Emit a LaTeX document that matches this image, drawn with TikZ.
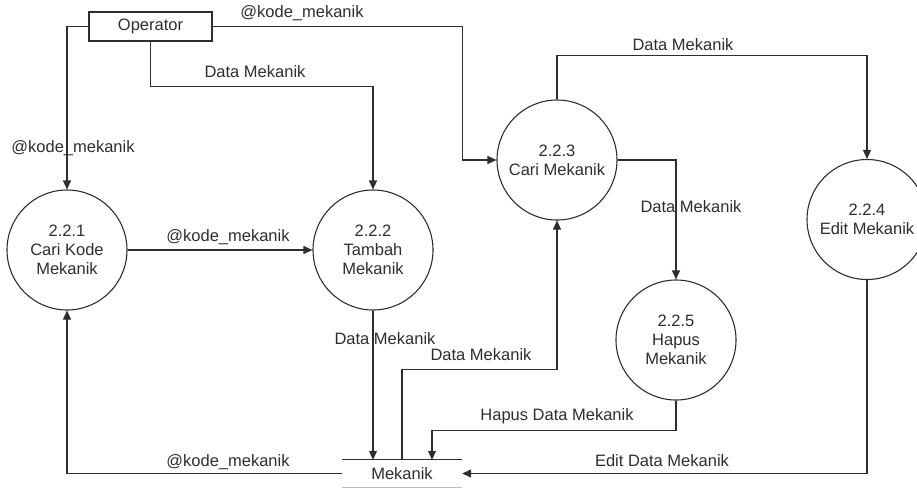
\documentclass[tikz,border=0pt]{standalone}
\usepackage{fontspec}
\setmainfont{Liberation Sans}
\usetikzlibrary{arrows.meta}
\begin{document}
\begin{tikzpicture}[x=1pt,y=-1pt,
  ink/.style={black!82},
  every node/.style={ink, font=\fontsize{16.5}{19}\selectfont},
  proc/.style={circle, draw, ink, line width=1.1pt, minimum size=120pt, inner sep=0pt, align=center},
  ent/.style={draw, ink, line width=1.1pt, minimum width=123pt, minimum height=29pt, inner sep=0pt},
  store/.style={minimum width=120pt, minimum height=27pt, inner sep=0pt},
  flow/.style={draw, ink, line width=1.1pt, -{Triangle[length=9pt,width=8pt]}},
  lbl/.style={inner sep=0pt}
]
\useasboundingbox (0,0) rectangle (917,488);
\clip (0,0) rectangle (917,488);

% external entity and processes
\node[ent] (op) at (150.5,26.5) {Operator};
\node[proc] (c1) at (67,250) {2.2.1\\Cari Kode\\Mekanik};
\node[proc] (c2) at (373,250) {2.2.2\\Tambah\\Mekanik};
\node[proc] (c3) at (557,160) {2.2.3\\Cari Mekanik};
\node[proc] (c4) at (867,219.5) {2.2.4\\Edit Mekanik};
\node[proc] (c5) at (676,340) {2.2.5\\Hapus\\Mekanik};

% data store
\node[store] (st) at (402,473.5) {Mekanik};
\draw[ink, line width=1.1pt] (st.north west) -- (st.north east);
\draw[black!25, line width=1.1pt] (st.south west) -- (st.south east);
\coordinate (sh) at ([xshift=30pt]st.north);

% data flows
\draw[flow] (op.west) -| (c1.north);
\draw[flow] (op.south) -- ++(0,45) -| (c2.north);
\draw[flow] (op.east) -- ++(250,0) |- (c3.west);
\draw[flow] (c1.east) -- (c2.west);
\draw[flow] (c2.south) -- (c2.south |- st.north);
\draw[flow] (st.north) -- ++(0,-90) -| (c3.south);
\draw[flow] (c3.east) -| (c5.north);
\draw[flow] (c3.north) -- ++(0,-44) -| (c4.north);
\draw[flow] (c5.south) -- ++(0,30) -| (sh);
\draw[flow] (c4.south) |- (st.east);
\draw[flow] (st.west) -| (c1.south);

% flow labels
\node[lbl] (l1) at (302,13) {@kode\_mekanik};
\node[lbl] (l2) at (255,72) {Data Mekanik};
\node[lbl] (l3) at (73,148) {@kode\_mekanik};
\node[lbl] (l4) at (228,237) {@kode\_mekanik};
\node[lbl] (l5) at (683,45) {Data Mekanik};
\node[lbl] (l6) at (691,207) {Data Mekanik};
\node[lbl] (l7) at (385,339) {Data Mekanik};
\node[lbl] (l8) at (481,355) {Data Mekanik};
\node[lbl] (l9) at (557,416) {Hapus Data Mekanik};
\node[lbl] (l10) at (662,461) {Edit Data Mekanik};
\node[lbl] (l11) at (228,462) {@kode\_mekanik};
\end{tikzpicture}
\end{document}
